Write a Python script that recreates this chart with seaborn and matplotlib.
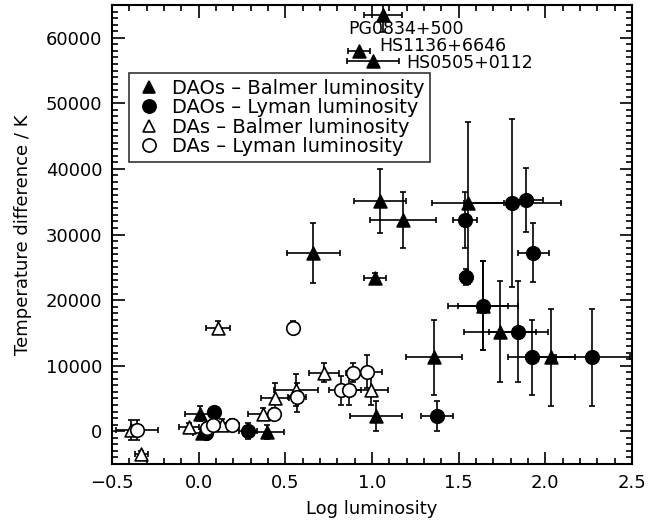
import numpy as np
import pandas as pd
import matplotlib
matplotlib.use("Agg")
import matplotlib.pyplot as plt
from matplotlib.lines import Line2D
from matplotlib.ticker import MultipleLocator, FuncFormatter
import seaborn as sns

# DAOs - Balmer luminosity (filled triangles)
dao_bal_x = [1.064, 0.925, 1.006, 0.66, 1.047, 1.18, 1.018, 1.554, 1.64, 1.739, 1.358, 2.03, 0.008, 0.02, 0.395, 1.023]
dao_bal_y = [63400, 58050, 56530, 27200, 35100, 32200, 23400, 34800, 19150, 15200, 11250, 11250, 2700, -200, -150, 2300]
dao_bal_xerr = [0.11, 0.065, 0.15, 0.153, 0.15, 0.19, 0.063, 0.21, 0.2, 0.21, 0.16, 0.144, 0.085, 0.05, 0.1, 0.15]
dao_bal_yerr = [2500, 0, 0, 4560, 4900, 4300, 800, 12400, 6750, 7700, 5700, 7450, 1200, 500, 1100, 2300]

# DAOs - Lyman luminosity (filled circles)
dao_lym_x = [1.808, 1.889, 1.537, 1.93, 1.54, 1.64, 1.843, 1.924, 2.27, 1.375, 0.089, 0.045, 0.285]
dao_lym_y = [34800, 35300, 32200, 27200, 23500, 19150, 15200, 11250, 11250, 2300, 2900, -300, 0]
dao_lym_xerr = [0.28, 0.1, 0.07, 0.09, 0.03, 0.146, 0.17, 0.14, 0.22, 0.095, 0.03, 0.03, 0.05]
dao_lym_yerr = [12800, 4900, 4300, 4500, 1200, 6750, 7700, 5700, 7450, 2300, 800, 500, 1200]

# DAs - Balmer luminosity (open triangles)
da_bal_x = [0.112, -0.39, -0.33, -0.056, 0.135, 0.373, 0.44, 0.562, 0.723, 0.995]
da_bal_y = [15800, 150, -3500, 600, 1000, 2600, 5000, 6250, 8950, 6250]
da_bal_xerr = [0.07, 0.0, 0.04, 0.06, 0.04, 0.087, 0.08, 0.125, 0.085, 0.1]
da_bal_yerr = [1000, 1500, 500, 600, 800, 900, 2400, 2400, 1500, 2300]

# DAs - Lyman luminosity (open circles)
da_lym_x = [0.545, -0.355, 0.05, 0.08, 0.19, 0.435, 0.567, 0.82, 0.867, 0.89, 0.97]
da_lym_y = [15800, 150, 500, 900, 1000, 2700, 5150, 6250, 6250, 8950, 9100]
da_lym_xerr = [0.0, 0.12, 0.03, 0.03, 0.04, 0.03, 0.05, 0.07, 0.07, 0.04, 0.087]
da_lym_yerr = [1000, 1500, 700, 700, 800, 900, 2150, 2200, 2300, 1500, 2500]

labels = ["PG0834+500", "HS1136+6646", "HS0505+0112"]
label_x = [0.862, 1.041, 1.196]
label_y = [61400, 58700, 56100]

groups = [
    ("DAOs \u2013 Balmer luminosity", dao_bal_x, dao_bal_y, dao_bal_xerr, dao_bal_yerr, "^", True),
    ("DAOs \u2013 Lyman luminosity", dao_lym_x, dao_lym_y, dao_lym_xerr, dao_lym_yerr, "o", True),
    ("DAs \u2013 Balmer luminosity", da_bal_x, da_bal_y, da_bal_xerr, da_bal_yerr, "^", False),
    ("DAs \u2013 Lyman luminosity", da_lym_x, da_lym_y, da_lym_xerr, da_lym_yerr, "o", False),
]

sns.set_style("ticks")
plt.rcParams["font.family"] = ["DejaVu Sans"]
for k in ["text.color", "axes.labelcolor", "xtick.color", "ytick.color", "axes.edgecolor"]:
    plt.rcParams[k] = "black"

fig = plt.figure(figsize=(6.68, 5.25), dpi=100)
ax = fig.add_axes([112 / 668, 1 - 464 / 525, 520 / 668, 459 / 525])

for name, x, y, xe, ye, mk, filled in groups:
    df = pd.DataFrame({"x": x, "y": y})
    ax.errorbar(x, y, xerr=xe, yerr=ye, fmt="none", ecolor="black",
                elinewidth=1.2, capsize=2.5, capthick=1.2, zorder=2)
    sns.scatterplot(data=df, x="x", y="y", marker=mk, s=85 if mk == "^" else 95,
                    color="black" if filled else "white", edgecolor="black",
                    linewidth=1.2, ax=ax, zorder=3, legend=False)

for t, tx, ty in zip(labels, label_x, label_y):
    ax.text(tx, ty, t, fontsize=12.5, va="center", ha="left")

ax.set_xlim(-0.5, 2.5)
ax.set_ylim(-5000, 65000)
ax.xaxis.set_major_locator(MultipleLocator(0.5))
ax.xaxis.set_minor_locator(MultipleLocator(0.1))
ax.yaxis.set_major_locator(MultipleLocator(10000))
ax.yaxis.set_minor_locator(MultipleLocator(1000))
ax.xaxis.set_major_formatter(FuncFormatter(lambda v, p: f"{v:.1f}".replace("-", "\u2212")))
ax.tick_params(which="both", direction="in", top=True, right=True, labelsize=13,
               width=1.2, color="black", labelcolor="black")
ax.tick_params(which="major", length=9, pad=7)
ax.tick_params(which="minor", length=4)
for sp in ax.spines.values():
    sp.set_linewidth(1.5)
    sp.set_visible(True)
    sp.set_color("black")

ax.set_xlabel("Log luminosity", fontsize=13, labelpad=6)
ax.set_ylabel("Temperature difference / K", fontsize=13, labelpad=10)

handles = [
    Line2D([], [], marker=mk, linestyle="none", markersize=9 if mk == "^" else 9.5,
           markerfacecolor="black" if filled else "white", markeredgecolor="black",
           markeredgewidth=1.2)
    for _, _, _, _, _, mk, filled in groups
]
leg = ax.legend(handles, [g[0] for g in groups], loc="upper left",
                bbox_to_anchor=(0.033, 0.852), fontsize=14, frameon=True,
                fancybox=False, edgecolor="black", handlelength=1.4,
                handletextpad=0.5, labelspacing=0.02, borderpad=0.3,
                borderaxespad=0)
leg.get_frame().set_linewidth(1.2)

fig.savefig("out.png", dpi=100)
